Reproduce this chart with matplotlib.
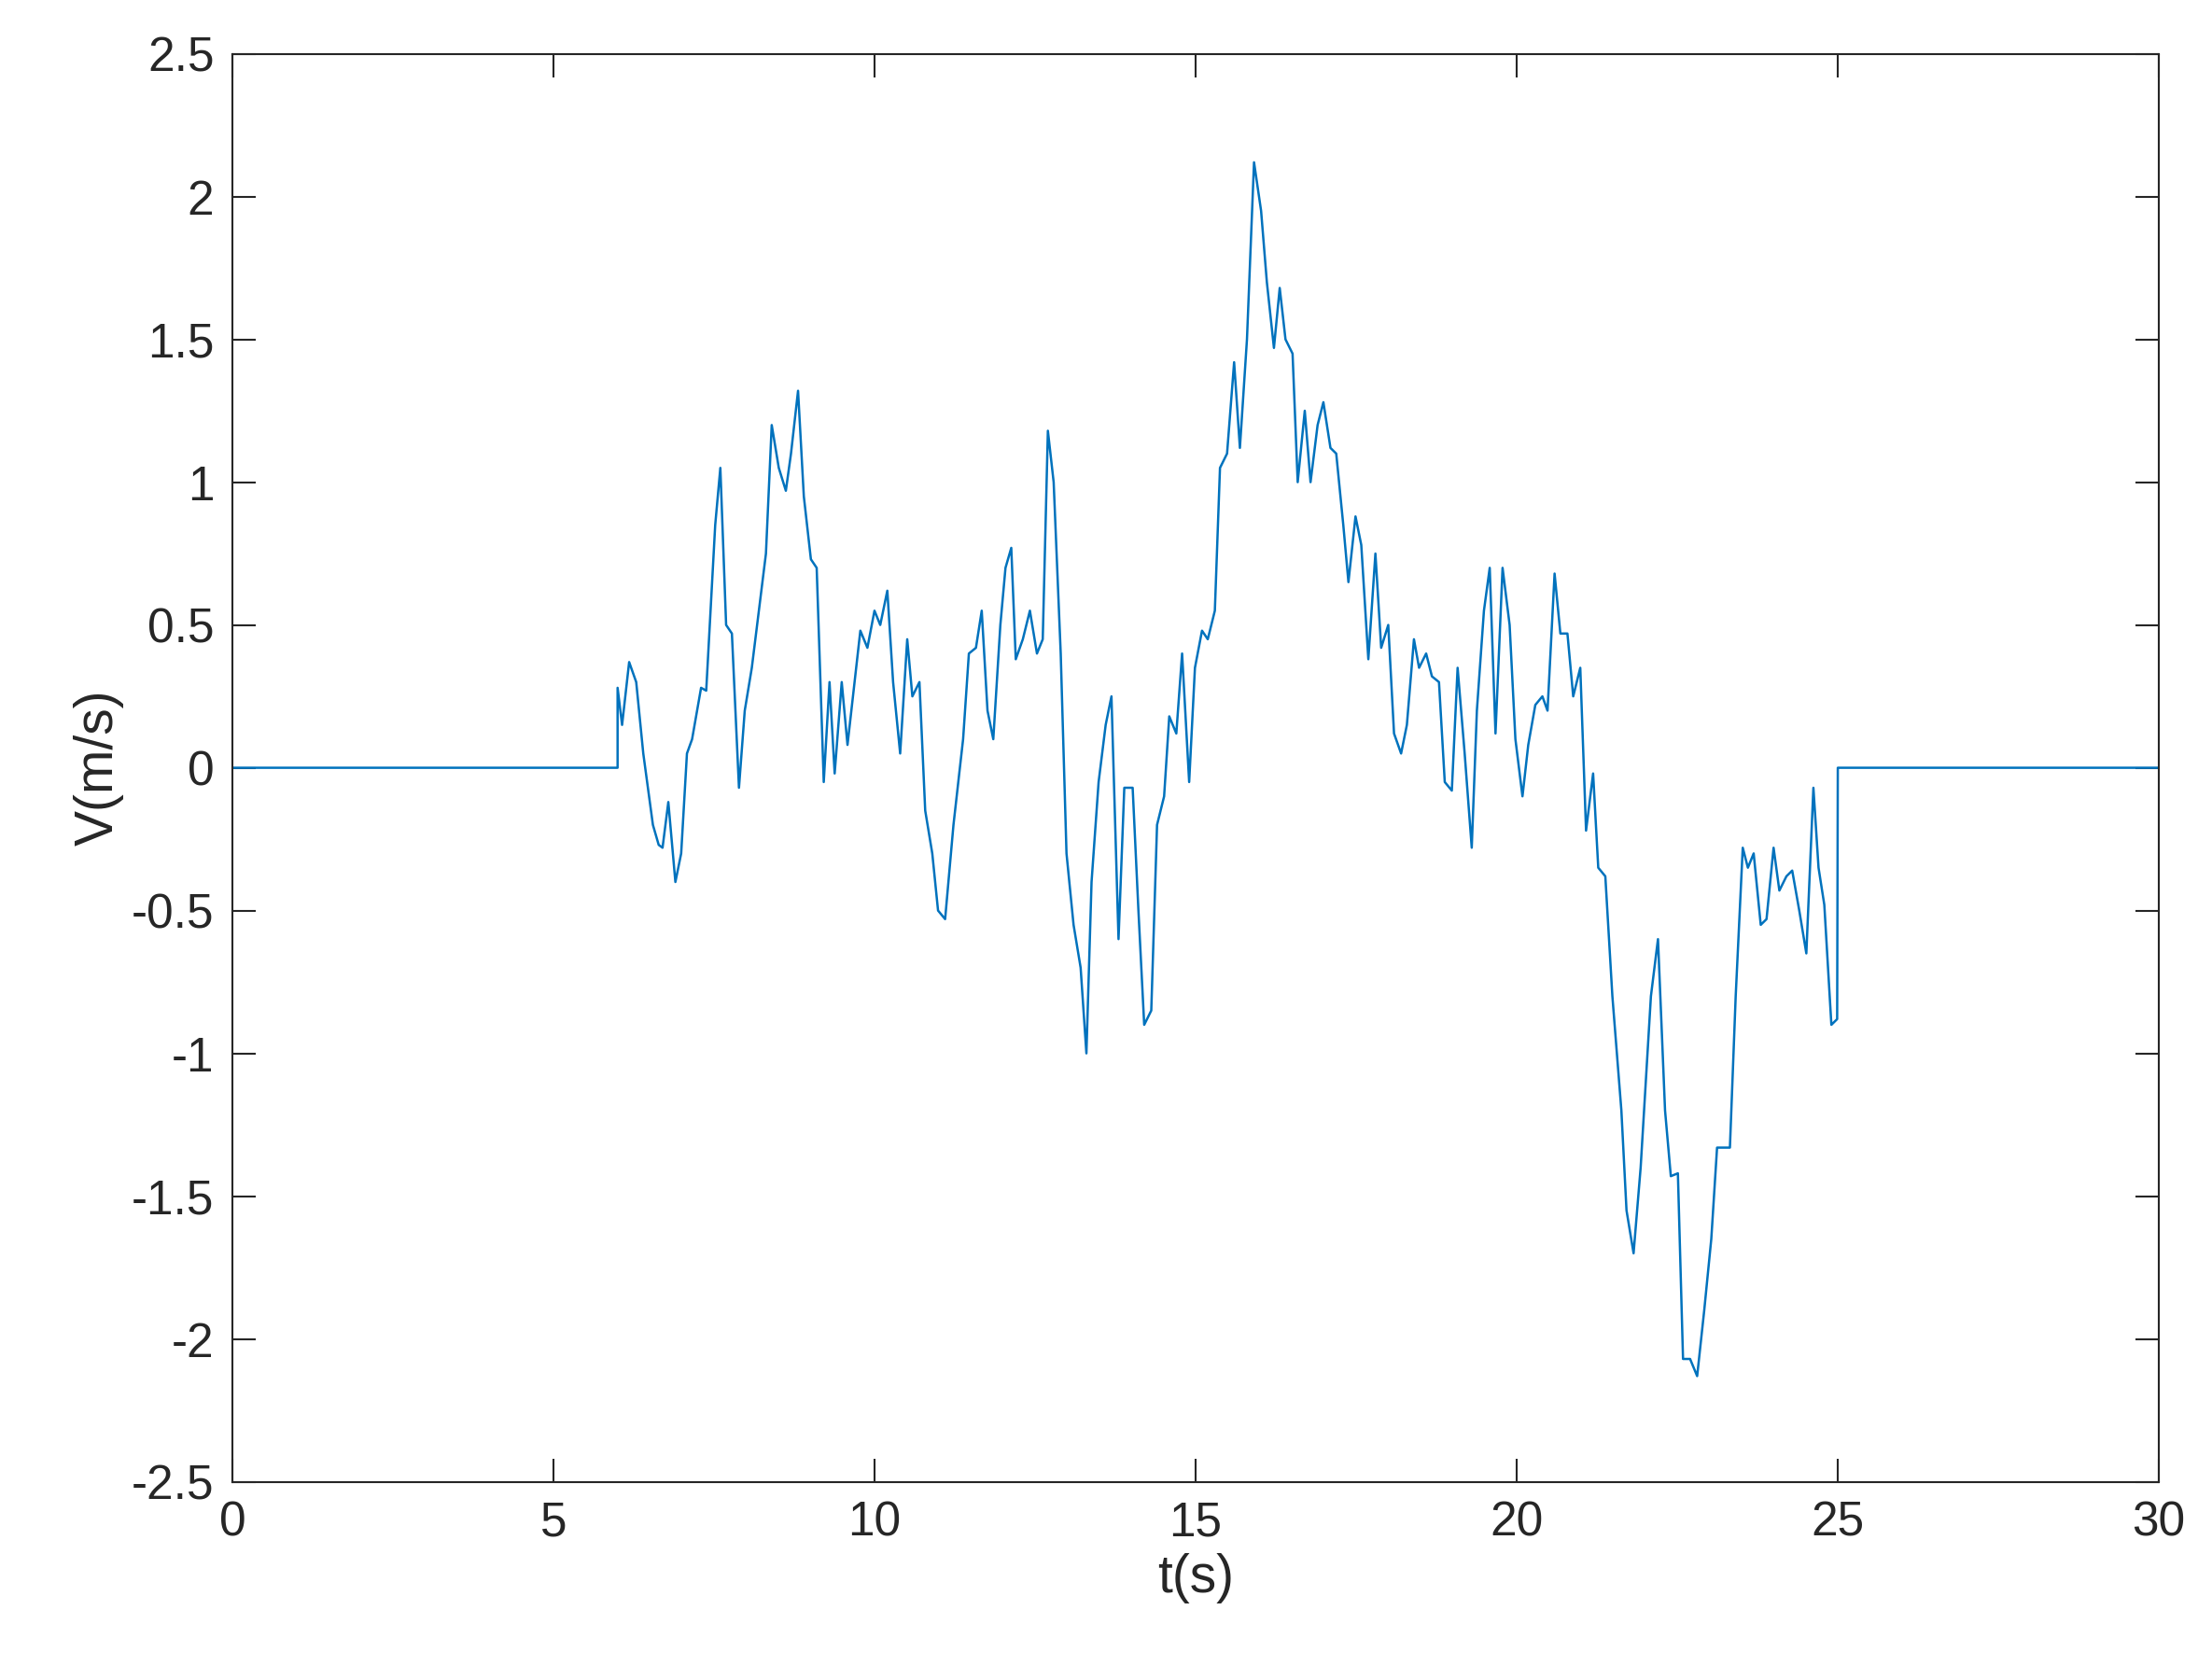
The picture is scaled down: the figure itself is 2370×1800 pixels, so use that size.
import matplotlib
matplotlib.use("Agg")
import matplotlib.pyplot as plt

plt.rcParams['font.family'] = ['Liberation Sans', 'DejaVu Sans']

# Time (s) and velocity (m/s)
t = [0.0, 6.0, 6.0, 6.07, 6.18, 6.29, 6.40, 6.55, 6.64, 6.70, 6.79, 6.90, 6.99, 7.08, 7.16, 7.30,
     7.38, 7.52, 7.60, 7.69, 7.78, 7.89, 7.98, 8.09, 8.20, 8.31, 8.40, 8.51, 8.62, 8.70,
     8.81, 8.90, 9.01, 9.10, 9.21, 9.30, 9.38, 9.49, 9.58, 9.69, 9.78, 9.89, 10.00, 10.09,
     10.20, 10.29, 10.40, 10.51, 10.59, 10.70, 10.79, 10.90, 10.99, 11.10, 11.23, 11.38,
     11.47, 11.58, 11.67, 11.76, 11.85, 11.96, 12.04, 12.13, 12.20, 12.31, 12.42, 12.53,
     12.62, 12.70, 12.79, 12.90, 12.99, 13.10, 13.21, 13.30, 13.38, 13.49, 13.60, 13.69,
     13.80, 13.89, 14.02, 14.11, 14.20, 14.31, 14.40, 14.51, 14.59, 14.70, 14.79, 14.90,
     14.99, 15.10, 15.19, 15.30, 15.38, 15.49, 15.60, 15.69, 15.80, 15.87, 15.91, 16.02,
     16.11, 16.22, 16.31, 16.40, 16.51, 16.59, 16.70, 16.79, 16.90, 16.99, 17.10, 17.19,
     17.30, 17.38, 17.49, 17.58, 17.69, 17.80, 17.89, 18.00, 18.09, 18.20, 18.29, 18.40,
     18.48, 18.59, 18.68, 18.79, 18.88, 18.99, 19.08, 19.19, 19.30, 19.38, 19.49, 19.58,
     19.67, 19.78, 19.89, 19.98, 20.09, 20.18, 20.29, 20.40, 20.48, 20.59, 20.68, 20.79,
     20.88, 20.99, 21.08, 21.19, 21.27, 21.38, 21.49, 21.63, 21.71, 21.82, 21.93, 22.09,
     22.20, 22.31, 22.40, 22.51, 22.59, 22.70, 22.81, 22.92, 23.03, 23.12, 23.23, 23.32,
     23.41, 23.52, 23.60, 23.69, 23.80, 23.89, 24.00, 24.09, 24.20, 24.29, 24.40, 24.51,
     24.62, 24.70, 24.79, 24.90, 24.99, 25.0, 30.0]
v = [0.0, 0.0, 0.28, 0.15, 0.37, 0.3, 0.05, -0.2, -0.27, -0.28, -0.12, -0.4, -0.3, 0.05, 0.1, 0.28,
     0.27, 0.85, 1.05, 0.5, 0.47, -0.07, 0.2, 0.35, 0.55, 0.75, 1.2, 1.05, 0.97, 1.1,
     1.32, 0.95, 0.73, 0.7, -0.05, 0.3, -0.02, 0.3, 0.08, 0.3, 0.48, 0.42, 0.55, 0.5,
     0.62, 0.3, 0.05, 0.45, 0.25, 0.3, -0.15, -0.3, -0.5, -0.53, -0.2, 0.1,
     0.4, 0.42, 0.55, 0.2, 0.1, 0.5, 0.7, 0.77, 0.38, 0.45, 0.55, 0.4,
     0.45, 1.18, 1.0, 0.4, -0.3, -0.55, -0.7, -1.0, -0.4, -0.05, 0.15, 0.25,
     -0.6, -0.07, -0.07, -0.5, -0.9, -0.85, -0.2, -0.1, 0.18, 0.12, 0.4, -0.05,
     0.35, 0.48, 0.45, 0.55, 1.05, 1.1, 1.42, 1.12, 1.5, 1.9, 2.12, 1.95,
     1.7, 1.47, 1.68, 1.5, 1.45, 1.0, 1.25, 1.0, 1.2, 1.28, 1.12, 1.1,
     0.85, 0.65, 0.88, 0.78, 0.38, 0.75, 0.42, 0.5, 0.12, 0.05, 0.15, 0.45,
     0.35, 0.4, 0.32, 0.3, -0.05, -0.08, 0.35, 0.05, -0.28, 0.2, 0.55, 0.7,
     0.12, 0.7, 0.5, 0.1, -0.1, 0.08, 0.22, 0.25, 0.2, 0.68, 0.47, 0.47,
     0.25, 0.35, -0.22, -0.02, -0.35, -0.38, -0.8, -1.2, -1.55, -1.7, -1.4, -0.8,
     -0.6, -1.2, -1.43, -1.42, -2.07, -2.07, -2.13, -1.9, -1.65, -1.33, -1.33, -1.33,
     -0.8, -0.28, -0.35, -0.3, -0.55, -0.53, -0.28, -0.43, -0.38, -0.36, -0.5, -0.65,
     -0.07, -0.35, -0.48, -0.9, -0.88, 0.0, 0.0]

fig = plt.figure(figsize=(23.7, 18), dpi=100)
ax = fig.add_axes([0.105, 0.118, 0.871, 0.85])
ax.plot(t, v, color='#0072BD', lw=1.8)

ax.set_xlim(0, 30)
ax.set_ylim(-2.5, 2.5)
ax.set_xticks([0, 5, 10, 15, 20, 25, 30])
ax.set_yticks([-2.5, -2, -1.5, -1, -0.5, 0, 0.5, 1, 1.5, 2, 2.5])
ax.set_yticklabels(['-2.5', '-2', '-1.5', '-1', '-0.5', '0', '0.5', '1', '1.5', '2', '2.5'])
ax.tick_params(direction='in', top=True, right=True, length=18, width=1.5,
               labelsize=37, colors='#262626', pad=14)
for s in ax.spines.values():
    s.set_linewidth(1.5)
    s.set_color('#262626')
ax.set_xlabel('t(s)', fontsize=41, color='#262626', labelpad=6)
ax.set_ylabel('V(m/s)', fontsize=41, color='#262626', labelpad=6)

fig.savefig('out.png', dpi=100)
